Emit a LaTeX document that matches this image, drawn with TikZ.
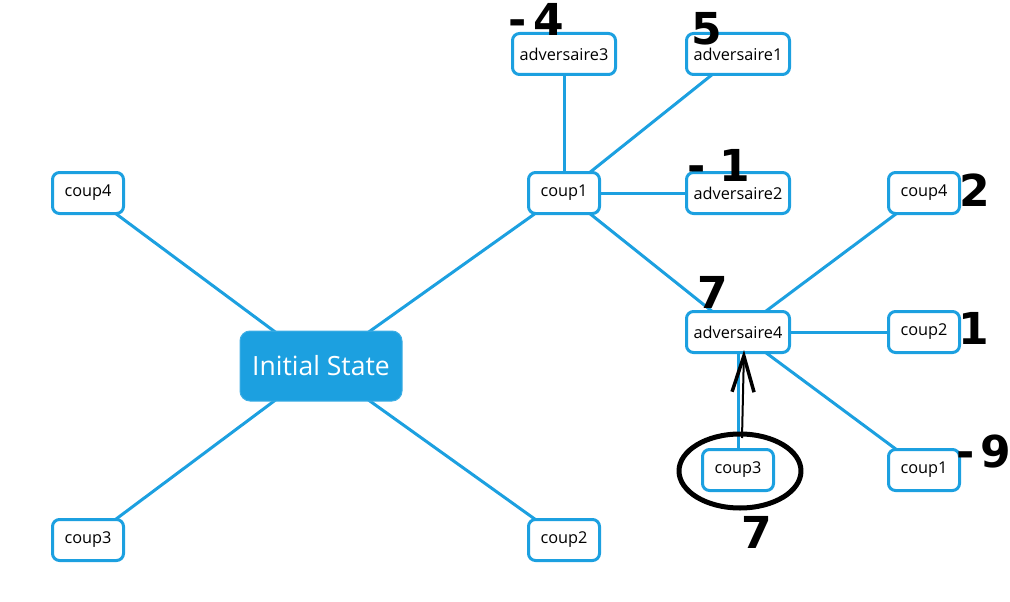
\documentclass[tikz,border=0pt]{standalone}
\usepackage{fontspec}
\setmainfont{Open Sans}
\newfontfamily\markfont{DejaVu Sans Bold}
\usetikzlibrary{arrows.meta}
\pgfdeclarelayer{background}
\pgfsetlayers{background,main}
\definecolor{nodeblue}{HTML}{1CA0E0}
\newcommand\leaffont{\fontsize{16.3}{19}\selectfont}
\newcommand\rootfont{\fontsize{26.5}{31}\selectfont}
\tikzset{
  leaf/.style={draw=nodeblue, line width=3pt, fill=white, rounded corners=7pt,
    minimum width=71pt, minimum height=41pt, inner sep=0pt, font=\leaffont},
  wideleaf/.style={leaf, minimum width=103pt},
  rootbox/.style={fill=nodeblue, draw=nodeblue!85!white, line width=1pt, rounded corners=10pt,
    minimum width=162pt, minimum height=70pt, text=white, font=\rootfont},
  link/.style={draw=nodeblue, line width=3pt},
  note/.style={font=\markfont\fontsize{44}{44}\selectfont, inner sep=0pt, text=black},
  ink/.style={draw=black, line width=5pt, line cap=round, line join=round}
}
\begin{document}
\begin{tikzpicture}[x=1pt,y=-1pt]
\useasboundingbox (0,0) rectangle (1010,602);
% tree nodes
\node[rootbox] (root) at (321,366) {Initial State};
\node[leaf] (lc4) at (88,193) {coup4};
\node[leaf] (lc3) at (88,540) {coup3};
\node[leaf] (bc2) at (564,540) {coup2};
\node[leaf] (mc1) at (564,193) {coup1};
\node[wideleaf] (adv3) at (564,54) {adversaire3};
\node[wideleaf] (adv1) at (738,54) {adversaire1};
\node[wideleaf] (adv2) at (738,193) {adversaire2};
\node[wideleaf] (adv4) at (738,332) {adversaire4};
\node[leaf] (rc4) at (924,193) {coup4};
\node[leaf] (rc2) at (924,332) {coup2};
\node[leaf] (rc1) at (924,470) {coup1};
\node[leaf] (rc3) at (738,470) {coup3};
% edges, kept behind the boxes
\begin{pgfonlayer}{background}
\foreach \a/\b in {root/lc4,root/lc3,root/bc2,root/mc1,mc1/adv3,mc1/adv1,mc1/adv2,mc1/adv4,adv4/rc4,adv4/rc2,adv4/rc1,adv4/rc3}
  \draw[link] (\a.center) -- (\b.center);
\end{pgfonlayer}
% hand-written scores
\node[note] (n1) at (536,19) {-\kern7pt 4};
\node[note] (n2) at (707,29) {5};
\node[note] (n3) at (719,165) {-\kern14pt 1};
\node[note] (n4) at (713,292) {7};
\node[note] (n5) at (975,190) {2};
\node[note] (n6) at (974,328) {1};
\node[note] (n7) at (984,452) {-\kern6pt 9};
\node[note] (n8) at (757,532) {7};
% circled move and its arrow
\coordinate (tail) at (742,438);
\coordinate (head) at (744,350);
\draw[black, line width=2pt, -{Straight Barb[length=36pt,width=22pt,line width=3.5pt]}] (tail) -- (head);
\draw[ink] (740,471) ellipse [x radius=61pt, y radius=37pt];
\end{tikzpicture}
\end{document}
